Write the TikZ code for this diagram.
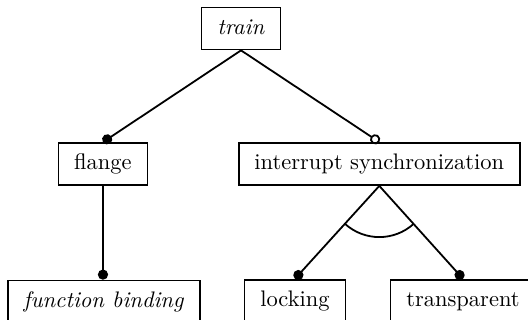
\documentclass[tikz,border=0pt]{standalone}
\usepackage{tikz}
\usetikzlibrary{arrows.meta,positioning}

\begin{document}
\begin{tikzpicture}[
  feature/.style={
    draw=black,
    line width=0.8pt,
    minimum height=0.656cm,
    inner xsep=7pt,
    text height=6.9pt,
    text depth=1.9pt
  },
  mandatory/.style={-{Circle[length=4.5pt]}, line width=0.8pt},
  optional/.style={-{Circle[open,length=4.5pt]}, line width=0.8pt},
  alternative/.style={line width=0.8pt}
]
  \useasboundingbox (0,0) rectangle (8.25,-5);

  \node[feature] (train) at (3.766,-0.445) {\textit{train}};
  \node[feature] (flange) at (1.609,-2.5625) {flange};
  \node[feature] (sync) at (5.927,-2.5625) {interrupt synchronization};
  % bottom row runs off the lower edge
  \node[feature, anchor=north west] (binding) at (0.109,-4.37) {\textit{function binding}};
  \node[feature] (locking) at (4.609,-4.698) {locking};
  \node[feature] (transparent) at (7.234,-4.698) {transparent};

  \draw[mandatory] (train.south) -- (flange.north);
  \draw[optional] (train.south) -- (sync.north);
  \draw[mandatory] (flange.south) -- (flange.south |- binding.north);
  \draw[mandatory] (sync.south) -- (locking.north);
  \draw[mandatory] (sync.south) -- (transparent.north);
  \draw[alternative] ([shift={(228:0.8)}]sync.south) arc[start angle=228, end angle=312, radius=0.8];
\end{tikzpicture}
\end{document}
